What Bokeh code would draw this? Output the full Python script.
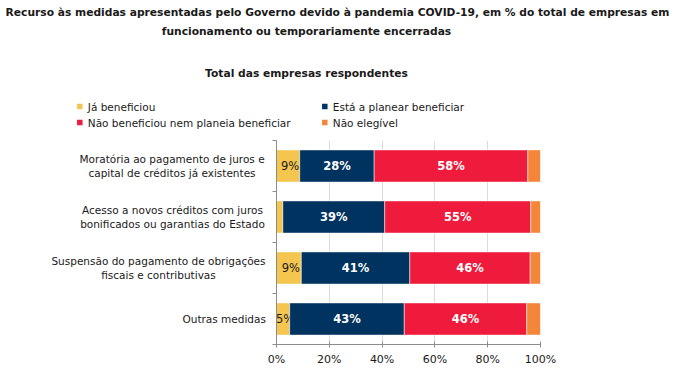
import numpy as np
from bokeh.plotting import figure
from bokeh.layouts import column, row
from bokeh.models import Range1d, FixedTicker, ColumnDataSource, PrintfTickFormatter
from bokeh.embed import file_html
from bokeh.resources import INLINE
from bokeh.core.properties import value

# ---------------- data ----------------
title_line1 = "Recurso às medidas apresentadas pelo Governo devido à pandemia COVID-19, em % do total de empresas em"
title_line2 = "funcionamento ou temporariamente encerradas"
subtitle = "Total das empresas respondentes"

categories = [
    ["Moratória ao pagamento de juros e", "capital de créditos já existentes"],
    ["Acesso a novos créditos com juros", "bonificados ou garantias do Estado"],
    ["Suspensão do pagamento de obrigações", "fiscais e contributivas"],
    ["Outras medidas"],
]
series_names = ["Já beneficiou", "Está a planear beneficiar",
                "Não beneficiou nem planeia beneficiar", "Não elegível"]
ja_beneficiou = [8.8, 2.4, 9.4, 5.0]
planear = [28.2, 38.6, 41.1, 43.4]
nao_beneficiou = [58.2, 55.3, 45.6, 46.4]
nao_elegivel = [4.8, 3.7, 3.9, 5.2]
x_ticks = [0, 20, 40, 60, 80, 100]

colors = ["#F5C64F", "#00335F", "#EE1B3C", "#F4863A"]
label_colors = ["#1a1a1a", "white", "white", None]
label_bold = ["normal", "bold", "bold", "normal"]
label_shift = [2, 0, 0, 0]

FONT = "DejaVu Sans"
TXT = "#1a1a1a"

W, H = 680, 377
TOP_H = 140          # header (titles + legend)
LEFT_W = 266         # category label column
MAIN_H = H - TOP_H
n = len(categories)


def bare(fig):
    fig.outline_line_color = None
    fig.xgrid.grid_line_color = None
    fig.ygrid.grid_line_color = None
    fig.min_border = 0
    return fig


# ---------------- header: titles + legend ----------------
top = bare(figure(width=W, height=TOP_H, output_backend="svg", toolbar_location=None,
                  x_range=Range1d(0, W), y_range=Range1d(TOP_H, 0),
                  x_axis_location=None, y_axis_location=None))
top.text(x=[337, 306, 306], y=[11.5, 30.5, 73], text=[title_line1, title_line2, subtitle],
         text_align="center", text_baseline="middle", text_font=value(FONT),
         text_font_size="10.7px", text_font_style="bold", text_color=TXT)
leg_x = [79.3, 324.3, 79.3, 324.3]
leg_y = [106, 106, 122, 122]
top.scatter(x=leg_x, y=leg_y, marker="square", size=5.5, fill_color=colors, line_color=None)
top.text(x=[v + 8 for v in leg_x], y=leg_y, text=series_names, text_align="left",
         text_baseline="middle", text_font=value(FONT), text_font_size="10.5px",
         text_color=TXT)

# ---------------- main chart ----------------
p = figure(width=W - LEFT_W, height=MAIN_H, output_backend="svg", toolbar_location=None,
           x_range=Range1d(0, 100), y_range=Range1d(0, n),
           min_border_left=10, min_border_right=140, min_border_top=0,
           min_border_bottom=33)
p.outline_line_color = None

ys = [n - 0.5 - i for i in range(n)]
all_series = [ja_beneficiou, planear, nao_beneficiou, nao_elegivel]
left = np.zeros(n)
for k, vals in enumerate(all_series):
    vals = np.array(vals, dtype=float)
    right = left + vals
    src = ColumnDataSource(dict(y=ys, left=left, right=right))
    p.hbar(y="y", left="left", right="right", height=0.63, source=src,
           fill_color=colors[k], line_color="white", line_width=0.5)
    if label_colors[k] is not None:
        mask = vals >= 4.5
        lsrc = ColumnDataSource(dict(
            x=list(((left + right) / 2)[mask]),
            y=list(np.array(ys)[mask]),
            t=[f"{int(round(v))}%" for v in vals[mask]]))
        p.text(x="x", y="y", text="t", source=lsrc, text_align="center",
               text_baseline="middle", text_color=label_colors[k],
               text_font=value(FONT), text_font_size="11.5px",
               text_font_style=label_bold[k], x_offset=label_shift[k])
    left = right

p.xaxis.ticker = FixedTicker(ticks=x_ticks)
p.xaxis.formatter = PrintfTickFormatter(format="%d%%")
p.xaxis.major_label_text_font = FONT
p.xaxis.major_label_text_font_size = "11px"
p.xaxis.major_label_text_color = TXT
p.xaxis.axis_line_color = "#8c8c8c"
p.xaxis.major_tick_line_color = "#8c8c8c"
p.xaxis.major_tick_in = 3
p.xaxis.major_tick_out = 3
p.xaxis.minor_tick_line_color = None
p.xaxis.major_label_standoff = 5

p.yaxis.ticker = FixedTicker(ticks=list(range(n + 1)))
p.yaxis.major_label_overrides = {i: "" for i in range(n + 1)}
p.yaxis.major_label_standoff = 0
p.yaxis.axis_line_color = "#8c8c8c"
p.yaxis.major_tick_line_color = "#8c8c8c"
p.yaxis.major_tick_in = 0
p.yaxis.major_tick_out = 4
p.yaxis.minor_tick_line_color = None

p.xgrid.ticker = FixedTicker(ticks=x_ticks)
p.xgrid.grid_line_color = "#dcdcdc"
p.ygrid.grid_line_color = None

# ---------------- category labels column ----------------
lab = bare(figure(width=LEFT_W, height=MAIN_H, output_backend="svg", toolbar_location=None,
                  x_range=Range1d(0, LEFT_W), y_range=p.y_range,
                  x_axis_location=None, y_axis_location=None))
lab.min_border_bottom = 33
cat_centers = [171.5, 172.0, 158.0, 223.7]
lx, ly, lt = [], [], []
for i, lines in enumerate(categories):
    m = len(lines)
    for j, line in enumerate(lines):
        off = (j - (m - 1) / 2) * 14.5 / 51.0
        lx.append(cat_centers[i])
        ly.append(ys[i] - off)
        lt.append(line)
lab.text(x=lx, y=ly, text=lt, text_align="center", text_baseline="middle",
         text_font=value(FONT), text_font_size="10.5px", text_color=TXT)

layout = column(top, row(lab, p, spacing=0), spacing=0)
open("out.html", "w").write(file_html(layout, INLINE))
